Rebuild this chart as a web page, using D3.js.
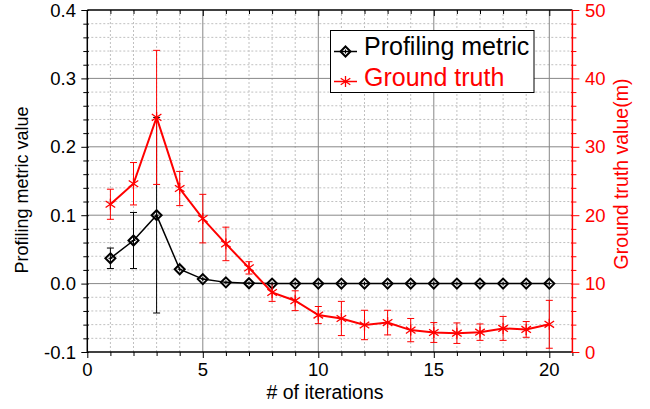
<!DOCTYPE html>
<html>
<head>
<meta charset="utf-8">
<script src="https://cdn.jsdelivr.net/npm/d3@7"></script>
<style>
  body { margin: 0; background: #fff; }
  svg { font-family: "Liberation Sans", Arial, sans-serif; }
</style>
</head>
<body>
<svg id="chart" width="650" height="409"></svg>
<script>
// iterations on the x axis
const iterations = [1, 2, 3, 4, 5, 6, 7, 8, 9, 10, 11, 12, 13, 14, 15, 16, 17, 18, 19, 20];

// profiling metric (left axis) + error
const metricValues = [0.037, 0.063, 0.100, 0.021, 0.0066, 0.0018, 0.0005, 0, 0, 0, 0, 0, 0, 0, 0, 0, 0, 0, 0, 0];
const metricErr = [0.015, 0.041, 0.143, 0.002, 0.001, 0, 0, 0, 0, 0, 0, 0, 0, 0, 0, 0, 0, 0, 0, 0];

// ground truth (right axis, m) + error
const truthValues = [21.6, 24.6, 34.3, 23.9, 19.5, 15.8, 12.3, 8.7, 7.5, 5.4, 4.9, 3.95, 4.3, 3.2, 2.85, 2.75, 2.9, 3.45, 3.3, 4.05];
const truthErr = [2.2, 3.1, 9.8, 2.5, 3.55, 2.45, 0.9, 1.3, 1.45, 1.25, 2.5, 2.15, 1.8, 1.7, 1.45, 1.5, 1.2, 1.75, 1.15, 3.5];

const xTicks = [0, 5, 10, 15, 20];
const leftTicks = ['-0.1', '0.0', '0.1', '0.2', '0.3', '0.4'];
const rightTicks = [0, 10, 20, 30, 40, 50];

const svg = d3.select('#chart');

const pLeft = 87.3, pRight = 572.4, pTop = 10, pBottom = 352;

const x = d3.scaleLinear().domain([0, 21]).range([pLeft, pRight]);
const yL = d3.scaleLinear().domain([-0.1, 0.4]).range([pBottom, pTop]);
const yR = d3.scaleLinear().domain([0, 50]).range([pBottom, pTop]);

const red = '#ff0000';

//---- grid ----
const grid = svg.append('g');
const minorX = d3.range(1, 21).filter(d => d % 5 !== 0);
const isMajorL = d => Math.abs(d * 10 - Math.round(d * 10)) < 0.01;
const minorY = d3.range(-0.1, 0.4001, 0.02).filter(d => !isMajorL(d));

grid.selectAll('.gx').data(minorX).enter().append('line')
  .attr('x1', d => x(d)).attr('x2', d => x(d))
  .attr('y1', pTop).attr('y2', pBottom)
  .attr('stroke', '#c0c0c0').attr('stroke-dasharray', '2,2');

grid.selectAll('.gy').data(minorY).enter().append('line')
  .attr('x1', pLeft).attr('x2', pRight)
  .attr('y1', d => yL(d)).attr('y2', d => yL(d))
  .attr('stroke', '#c0c0c0').attr('stroke-dasharray', '2,2');

grid.selectAll('.gX').data([5, 10, 15, 20]).enter().append('line')
  .attr('x1', d => x(d)).attr('x2', d => x(d))
  .attr('y1', pTop).attr('y2', pBottom)
  .attr('stroke', '#888');

grid.selectAll('.gY').data([0.0, 0.1, 0.2, 0.3]).enter().append('line')
  .attr('x1', pLeft).attr('x2', pRight)
  .attr('y1', d => yL(d)).attr('y2', d => yL(d))
  .attr('stroke', '#888');

//---- axes ----
const allX = d3.range(0, 22);

// bottom
const bottomAxis = svg.append('g').attr('transform', `translate(0,${pBottom})`)
  .call(d3.axisBottom(x).tickValues(allX).tickSize(4).tickFormat(''));
bottomAxis.selectAll('.tick line').filter(d => d % 5 === 0).attr('y2', 6);
bottomAxis.select('.domain').remove();
svg.append('line').attr('x1', pLeft).attr('x2', pRight).attr('y1', pBottom).attr('y2', pBottom)
  .attr('stroke', '#000').attr('stroke-width', 1.5);
svg.selectAll('.xlab').data(xTicks).enter().append('text')
  .attr('x', d => x(d)).attr('y', 376).attr('text-anchor', 'middle')
  .attr('font-size', 18.5).text(d => d);

// top
const topAxis = svg.append('g').attr('transform', `translate(0,${pTop})`)
  .call(d3.axisBottom(x).tickValues(allX.filter(d => d > 0 && d < 21)).tickSize(4).tickFormat(''));
topAxis.selectAll('.tick line').filter(d => d % 5 === 0).attr('y2', 6);
topAxis.select('.domain').remove();
svg.append('line').attr('x1', pLeft).attr('x2', pRight).attr('y1', pTop).attr('y2', pTop)
  .attr('stroke', '#000').attr('stroke-width', 1.5);

// left
const allL = d3.range(-0.1, 0.4001, 0.02);
const leftAxis = svg.append('g').attr('transform', `translate(${pLeft},0)`)
  .call(d3.axisLeft(yL).tickValues(allL).tickSize(4).tickFormat(''));
leftAxis.selectAll('.tick line')
  .attr('x1', 1.5)
  .filter(isMajorL).attr('x2', -6);
leftAxis.select('.domain').remove();
svg.append('line').attr('x1', pLeft).attr('x2', pLeft).attr('y1', pTop).attr('y2', pBottom)
  .attr('stroke', '#000').attr('stroke-width', 1.5);
svg.selectAll('.ylab').data(leftTicks).enter().append('text')
  .attr('x', 76).attr('y', d => yL(+d) + 6.5).attr('text-anchor', 'end')
  .attr('font-size', 18.5).text(d => d);

// right (red)
const allR = d3.range(0, 51, 2);
const rightAxis = svg.append('g').attr('transform', `translate(${pRight},0)`)
  .call(d3.axisRight(yR).tickValues(allR).tickSize(4).tickFormat(''));
rightAxis.selectAll('.tick line').attr('stroke', red)
  .attr('x1', -1.5)
  .filter(d => d % 10 === 0).attr('x2', 7);
rightAxis.select('.domain').remove();
svg.append('line').attr('x1', pRight).attr('x2', pRight).attr('y1', pTop).attr('y2', pBottom)
  .attr('stroke', red).attr('stroke-width', 1.5);
svg.selectAll('.rlab').data(rightTicks).enter().append('text')
  .attr('x', 585).attr('y', d => yR(d) + 6.5).attr('text-anchor', 'start')
  .attr('fill', red).attr('font-size', 18.5).text(d => d);

// axis titles
svg.append('text').attr('x', 325).attr('y', 399).attr('text-anchor', 'middle')
  .attr('font-size', 19.5).text('# of iterations');
svg.append('text').attr('transform', 'translate(28,190) rotate(-90)').attr('text-anchor', 'middle')
  .attr('font-size', 18).text('Profiling metric value');
svg.append('text').attr('transform', 'translate(628,174) rotate(-90)').attr('text-anchor', 'middle')
  .attr('font-size', 19.5).attr('fill', red).text('Ground truth value(m)');

//---- data ----
const metric = iterations.map((d, i) => ({ x: d, y: metricValues[i], e: metricErr[i] }));
const truth = iterations.map((d, i) => ({ x: d, y: truthValues[i], e: truthErr[i] }));

function drawErrors(data, yScale, color, minErr) {
  const g = svg.append('g').attr('stroke', color).attr('stroke-width', 1);
  const withErr = data.filter(d => d.e > minErr);
  g.selectAll('.v').data(withErr).enter().append('line')
    .attr('x1', d => x(d.x)).attr('x2', d => x(d.x))
    .attr('y1', d => yScale(d.y - d.e)).attr('y2', d => yScale(d.y + d.e));
  [-1, 1].forEach(s => {
    g.selectAll('.c' + s).data(withErr).enter().append('line')
      .attr('x1', d => x(d.x) - 3.5).attr('x2', d => x(d.x) + 3.5)
      .attr('y1', d => yScale(d.y + s * d.e))
      .attr('y2', d => yScale(d.y + s * d.e));
  });
}

drawErrors(metric, yL, '#000', 0.005);
drawErrors(truth, yR, red, 0.5);

svg.append('path').datum(metric)
  .attr('fill', 'none').attr('stroke', '#000').attr('stroke-width', 1.5)
  .attr('d', d3.line().x(d => x(d.x)).y(d => yL(d.y)));

svg.append('path').datum(truth)
  .attr('fill', 'none').attr('stroke', red).attr('stroke-width', 2)
  .attr('d', d3.line().x(d => x(d.x)).y(d => yR(d.y)));

function diamond(g, cx, cy) {
  g.append('path')
    .attr('d', `M${cx},${cy - 5}L${cx + 5},${cy}L${cx},${cy + 5}L${cx - 5},${cy}Z`)
    .attr('fill', 'none').attr('stroke', '#000').attr('stroke-width', 2);
  g.append('path')
    .attr('d', `M${cx - 2},${cy}H${cx + 2}M${cx},${cy - 2}V${cy + 2}`)
    .attr('stroke', '#000').attr('stroke-width', 1);
}

function asterisk(g, cx, cy) {
  const r = 5.5, dx = r * 0.87, dy = r * 0.6;
  g.append('path')
    .attr('d', `M${cx},${cy - r}V${cy + r}M${cx - dx},${cy - dy}L${cx + dx},${cy + dy}M${cx - dx},${cy + dy}L${cx + dx},${cy - dy}`)
    .attr('stroke', red).attr('stroke-width', 1.3).attr('fill', 'none');
}

const mg = svg.append('g');
metric.forEach(d => diamond(mg, x(d.x), yL(d.y)));
const tg = svg.append('g');
truth.forEach(d => asterisk(tg, x(d.x), yR(d.y)));

//---- legend ----
const lg = svg.append('g');
lg.append('rect').attr('x', 330.5).attr('y', 30.5).attr('width', 203.5).attr('height', 62)
  .attr('fill', '#fff').attr('stroke', '#000').attr('stroke-width', 1);
lg.append('line').attr('x1', 334).attr('x2', 357).attr('y1', 51.5).attr('y2', 51.5)
  .attr('stroke', '#000').attr('stroke-width', 1.5);
diamond(lg, 345.5, 51.5);
lg.append('line').attr('x1', 334).attr('x2', 357).attr('y1', 81.5).attr('y2', 81.5)
  .attr('stroke', red).attr('stroke-width', 1.5);
asterisk(lg, 345.5, 81.5);
lg.append('text').attr('x', 364).attr('y', 55).attr('font-size', 25).text('Profiling metric');
lg.append('text').attr('x', 364).attr('y', 85.5).attr('font-size', 25).attr('fill', red).text('Ground truth');
</script>
</body>
</html>
